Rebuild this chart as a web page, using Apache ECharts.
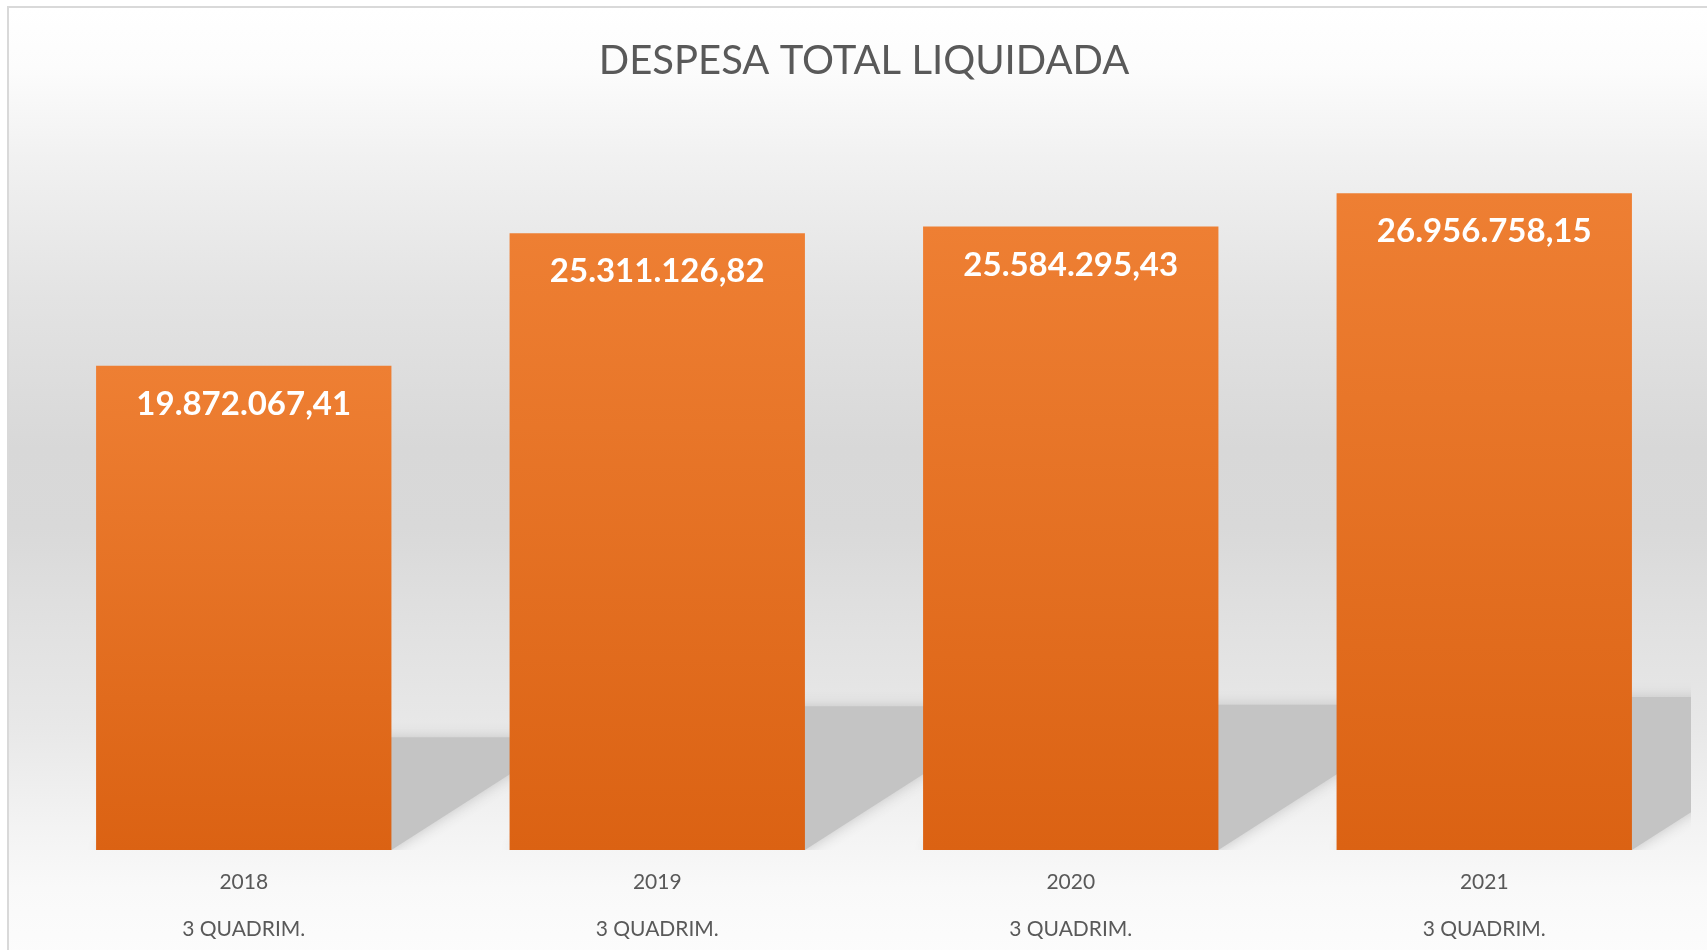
<!DOCTYPE html>
<html>
<head>
<meta charset="utf-8">
<script src="https://cdn.jsdelivr.net/npm/echarts@6/dist/echarts.min.js"></script>
<style>
  html, body { margin: 0; padding: 0; width: 1707px; height: 950px; overflow: hidden; background: #ffffff; }
  #frame {
    position: absolute; left: 7px; top: 6px; width: 1720px; height: 960px;
    border-top: 2px solid #d9d9d9; border-left: 2px solid #d9d9d9;
    background: linear-gradient(to bottom,
      #ffffff 0px, #fcfcfc 60px, #f1f1f1 150px, #e3e3e3 290px,
      #d8d8d8 440px, #d9d9d9 520px, #e1e1e1 620px, #e8e8e8 720px,
      #f3f3f3 820px, #f9f9f9 880px, #fcfcfc 950px);
  }
  #chart { position: absolute; left: 0; top: 0; width: 1707px; height: 950px; }
</style>
</head>
<body>
<div id="frame"></div>
<div id="chart"></div>
<script>
// ---- data ----
const titleText = 'DESPESA TOTAL LIQUIDADA';
const years = ['2018', '2019', '2020', '2021'];
const periodLabel = '3 QUADRIM.';
const values = [19872067.41, 25311126.82, 25584295.43, 26956758.15];

function fmtBR(v) {
  const parts = v.toFixed(2).split('.');
  const intPart = parts[0].replace(/\B(?=(\d{3})+(?!\d))/g, '.');
  return intPart + ',' + parts[1];
}

const SHADOW_RATIO = 0.233;   // perspective shadow height relative to bar height
const SHADOW_SLOPE = 0.64;    // dy/dx of shadow skew
const BAR_FRAC = 1 / 1.4;     // gap width 40%

const chart = echarts.init(document.getElementById('chart'), null, { renderer: 'canvas' });

const option = {
  backgroundColor: 'transparent',
  animation: false,
  title: {
    text: titleText,
    left: 859,
    top: 36,
    textAlign: 'center',
    textStyle: {
      fontFamily: 'Lato',
      fontWeight: 'normal',
      fontSize: 40,
      color: '#595959'
    }
  },
  grid: { left: 37, right: 16, top: 119, bottom: 100, containLabel: false, outerBoundsMode: 'none' },
  xAxis: {
    type: 'category',
    data: years,
    axisLine: { show: false },
    axisTick: { show: false },
    axisLabel: {
      margin: 9,
      fontFamily: 'Lato',
      fontSize: 21,
      color: '#595959',
      lineHeight: 47,
      formatter: function (v) { return v + '\n' + periodLabel; }
    }
  },
  yAxis: {
    type: 'value',
    min: 0,
    max: 30000000,
    show: false,
    splitLine: { show: false }
  },
  series: [
    {
      type: 'custom',
      clip: true,
      z: 1,
      data: values.map(function (v, i) { return [i, v]; }),
      renderItem: function (params, api) {
        const idx = api.value(0);
        const v = api.value(1);
        const base = api.coord([idx, 0]);
        const top = api.coord([idx, v * SHADOW_RATIO]);
        const bw = api.size([1, 0])[0] * BAR_FRAC;
        const xL = base[0] - bw / 2;
        const xR = base[0] + bw / 2;
        const h = base[1] - top[1];
        const shift = h / SHADOW_SLOPE;
        return {
          type: 'polygon',
          shape: {
            points: [
              [xL, base[1]],
              [xR, base[1]],
              [xR + shift, top[1]],
              [xL + shift, top[1]]
            ]
          },
          style: {
            fill: '#c4c4c4',
            shadowBlur: 14,
            shadowColor: 'rgba(196,196,196,1)'
          }
        };
      }
    },
    {
      type: 'bar',
      z: 2,
      data: values,
      barWidth: (BAR_FRAC * 100) + '%',
      itemStyle: {
        color: {
          type: 'linear', x: 0, y: 0, x2: 0, y2: 1,
          colorStops: [
            { offset: 0, color: '#ee7f33' },
            { offset: 1, color: '#db6213' }
          ]
        }
      },
      label: {
        show: true,
        position: 'insideTop',
        distance: 22,
        fontFamily: 'Lato',
        fontWeight: 'bold',
        fontSize: 33,
        color: '#ffffff',
        formatter: function (p) { return fmtBR(p.value); }
      }
    }
  ]
};

chart.setOption(option);
</script>
</body>
</html>
